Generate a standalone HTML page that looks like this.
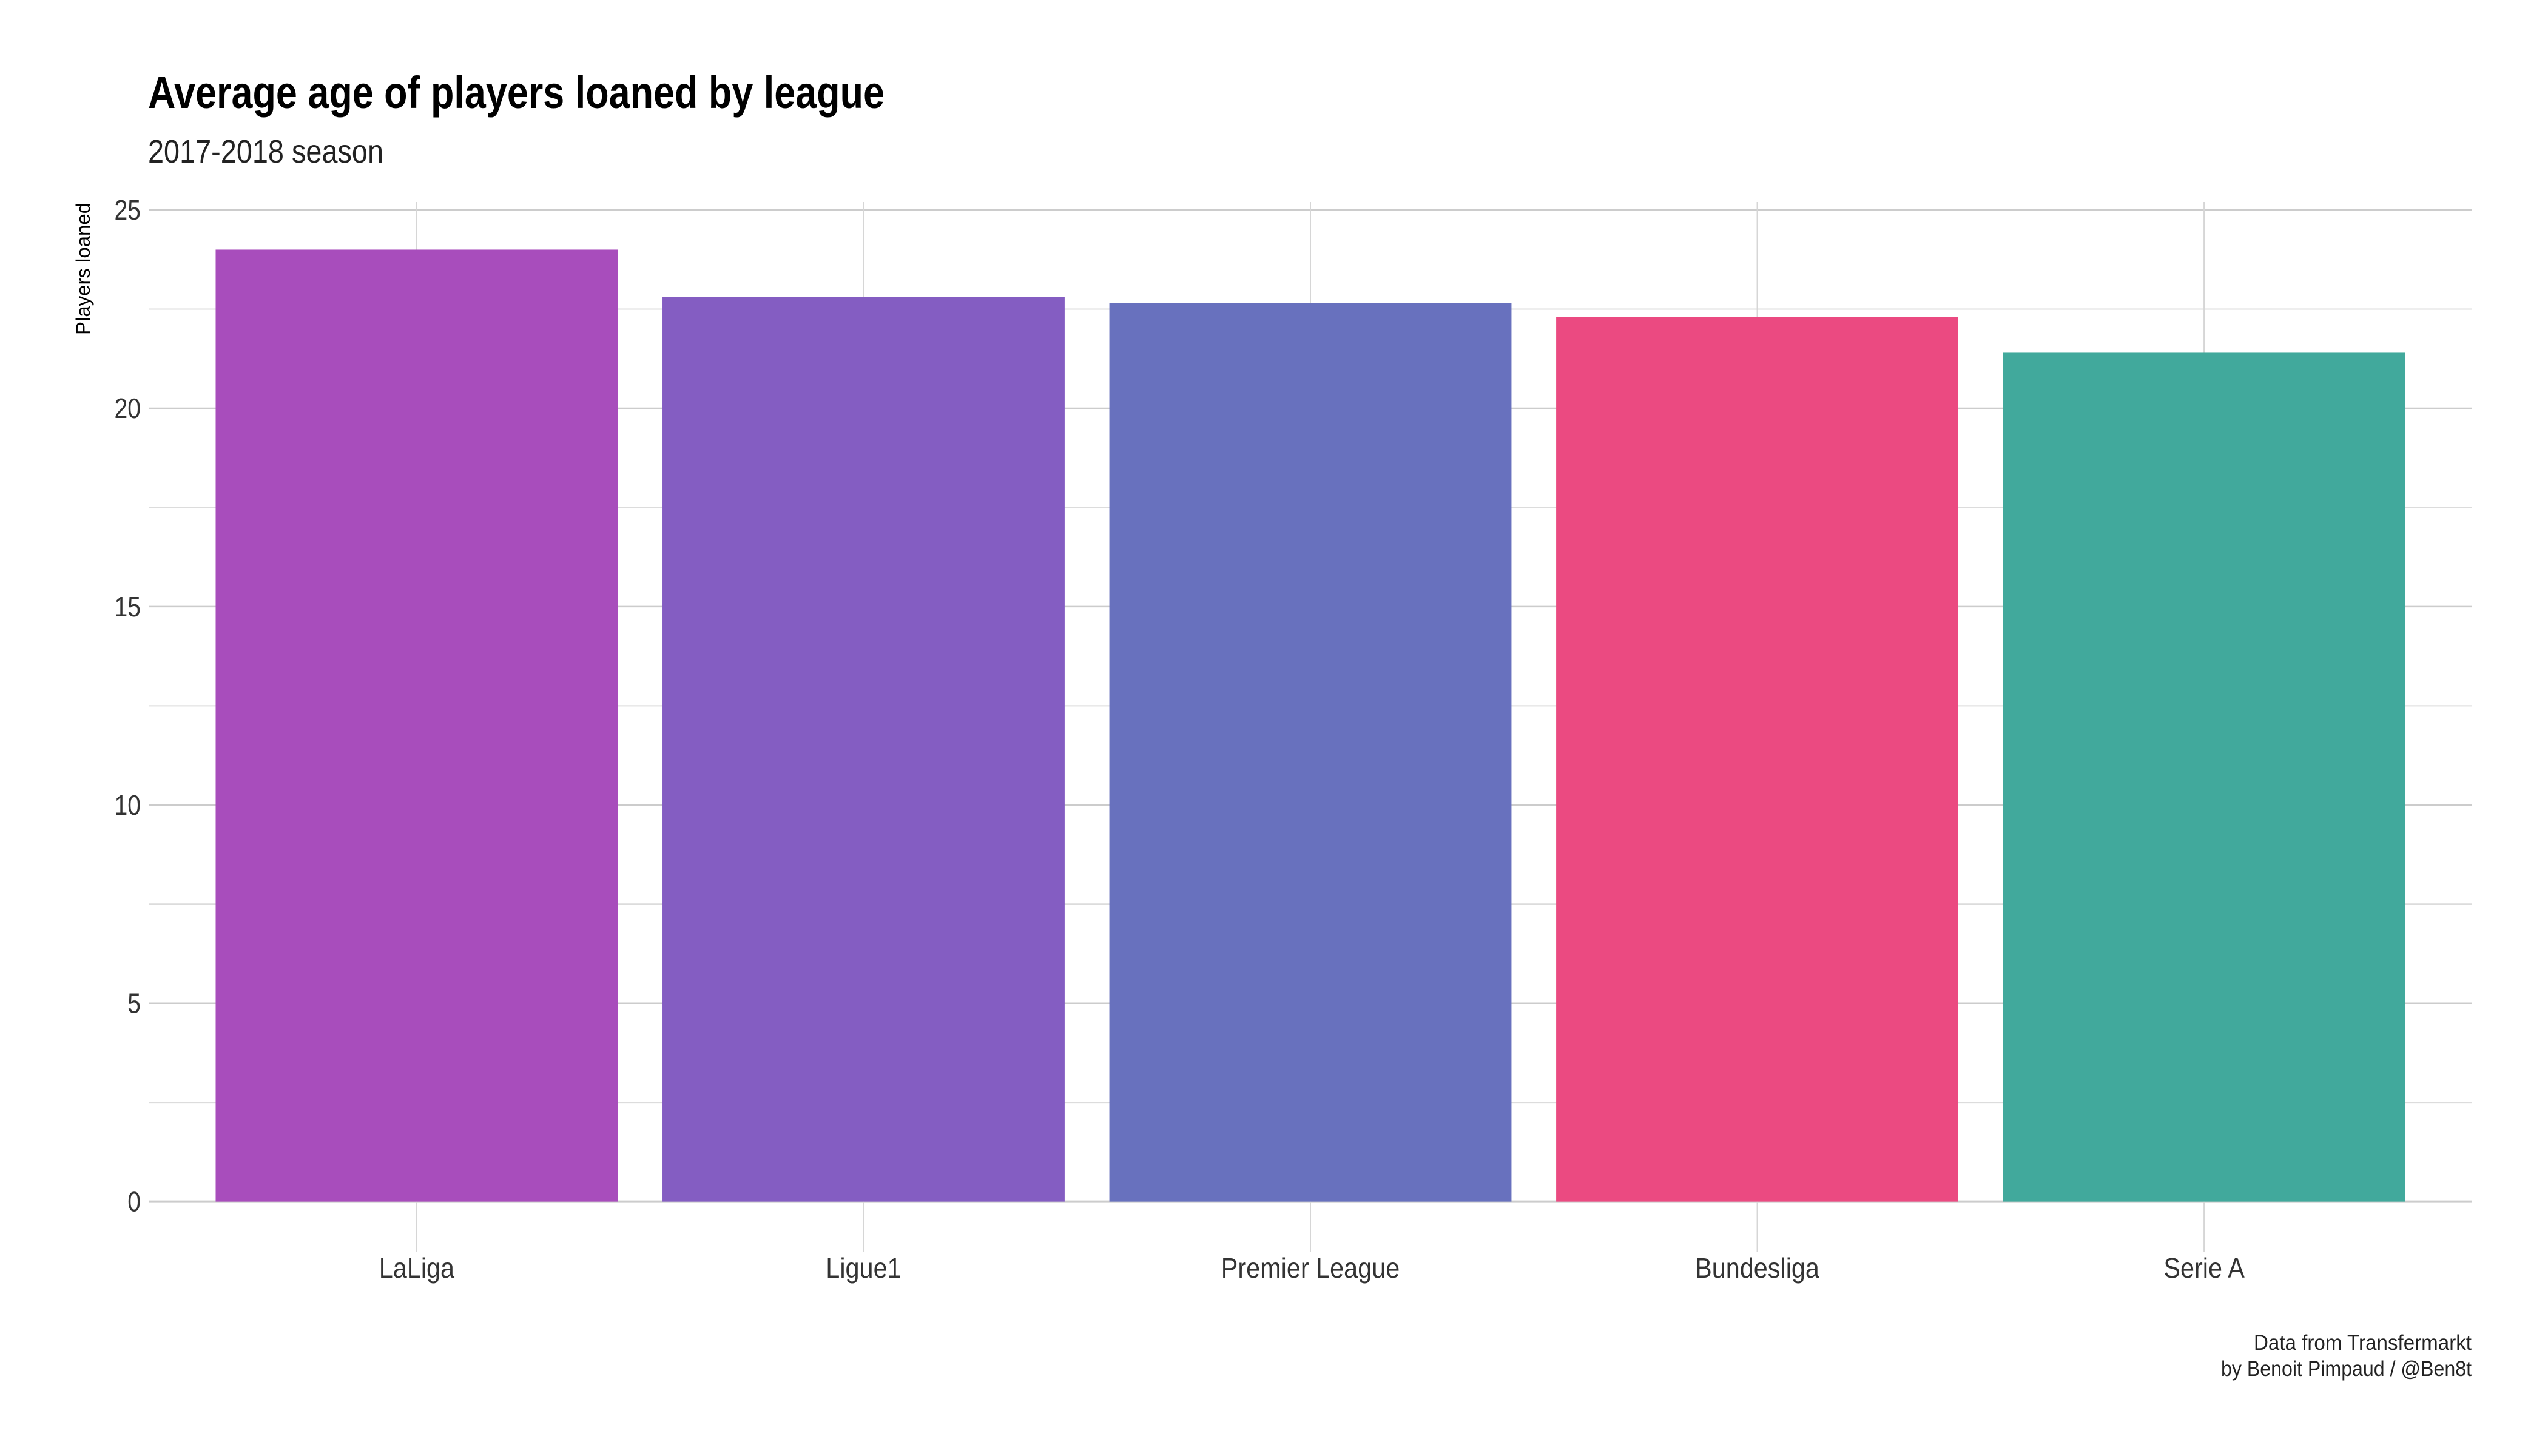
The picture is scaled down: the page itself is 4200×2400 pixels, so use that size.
<!DOCTYPE html>
<html><head><meta charset="utf-8"><style>
html,body{margin:0;padding:0;background:#fff;}
svg{display:block;font-family:"Liberation Sans Narrow","Liberation Sans",sans-serif;}
</style></head><body>
<svg id="chart" width="4200" height="2400" viewBox="0 0 4200 2400" xmlns="http://www.w3.org/2000/svg">
<rect width="4200" height="2400" fill="#fff"/>
<text x="244" y="178" font-size="74" font-weight="bold" fill="#000" textLength="1214" lengthAdjust="spacingAndGlyphs">Average age of players loaned by league</text>
<text x="244" y="268" font-size="54" fill="#222" textLength="388" lengthAdjust="spacingAndGlyphs">2017-2018 season</text>
<text transform="translate(148,443) rotate(-90)" text-anchor="middle" font-size="32" fill="#000" textLength="218" lengthAdjust="spacingAndGlyphs">Players loaned</text>
<g id="grid"></g>
<g id="bars"></g>
<g id="yticks"></g>
<g id="xticks"></g>
<text x="3715" y="2225" font-size="35" fill="#222" textLength="359" lengthAdjust="spacingAndGlyphs">Data from Transfermarkt</text>
<text x="3661" y="2268" font-size="35" fill="#222" textLength="413" lengthAdjust="spacingAndGlyphs">by Benoit Pimpaud / @Ben8t</text>
</svg>
<script>
const categories = ["LaLiga","Ligue1","Premier League","Bundesliga","Serie A"];
const values = [24.0, 22.8, 22.65, 22.3, 21.4];
const colors = ["#a84dbc","#845dc2","#6871be","#eb4a81","#41a99c"];
const yTicks = [0,5,10,15,20,25];
const yMinor = [2.5,7.5,12.5,17.5,22.5];

const NS = "http://www.w3.org/2000/svg";
const plotLeft = 245, plotRight = 4075, plotTop = 333, plotBottom = 2063;
const yMin = -1.26, yMax = 25.2;
function yScale(v){ return plotBottom - (v - yMin) / (yMax - yMin) * (plotBottom - plotTop); }
const step = (plotRight - plotLeft) / (categories.length - 1 + 1.2);
function xScale(i){ return plotLeft + step * (0.6 + i); }
function mk(tag, attrs, parent){
  const e = document.createElementNS(NS, tag);
  for (const k in attrs) e.setAttribute(k, attrs[k]);
  parent.appendChild(e);
  return e;
}
const grid = document.getElementById("grid");
yMinor.forEach(v => {
  const l = mk("line", {x1:plotLeft, x2:plotRight, y1:yScale(v), y2:yScale(v), stroke:"#dcdcdc", "stroke-width":2}, grid);
  
  
});
yTicks.forEach(v => {
  const l = mk("line", {x1:plotLeft, x2:plotRight, y1:yScale(v), y2:yScale(v), stroke:"#cccccc", "stroke-width":v===0?4:2.5}, grid);
  
  
});
categories.forEach((c, i) => {
  const l = mk("line", {x1:xScale(i), x2:xScale(i), y1:plotTop, y2:plotBottom, stroke:"#d6d6d6", "stroke-width":2}, grid);
  
  
});
const bars = document.getElementById("bars");
const bw = step * 0.9;
values.forEach((v, i) => {
  const r = mk("rect", {x:xScale(i) - bw/2, y:yScale(v), width:bw, height:yScale(0) - yScale(v), fill:colors[i]}, bars);
  
  
});
const yt = document.getElementById("yticks");
yTicks.forEach(v => {
  const t = mk("text", {x:232, y:yScale(v) + 16, "text-anchor":"end", "font-size":46, fill:"#333"}, yt);
  t.textContent = v;
  
  
  const w = t.getComputedTextLength();
  if (w > 0) {
    t.setAttribute('textLength', w * 0.85);
    t.setAttribute('lengthAdjust', 'spacingAndGlyphs');
  }
});
const xt = document.getElementById("xticks");
categories.forEach((c, i) => {
  const t = mk("text", {x:xScale(i), y:2106, "text-anchor":"middle", "font-size":46, fill:"#333"}, xt);
  t.textContent = c;
  
  
  const w = t.getComputedTextLength();
  if (w > 0) {
    t.setAttribute('textLength', w * 0.9);
    t.setAttribute('lengthAdjust', 'spacingAndGlyphs');
  }
});
</script>
</body></html>
